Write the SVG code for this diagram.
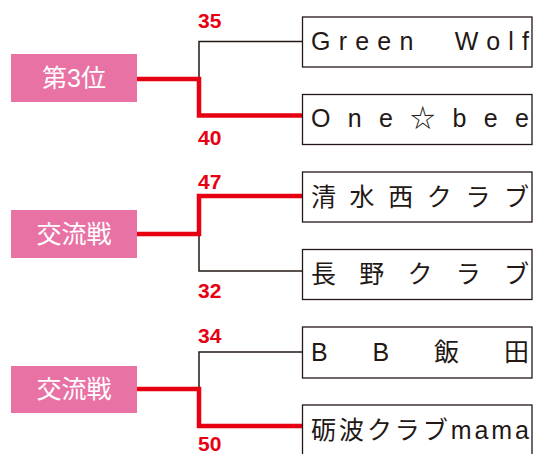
<svg xmlns="http://www.w3.org/2000/svg" width="539" height="454" viewBox="0 0 539 454">
<style>
.bg{fill:#ffffff}
.lbl{fill:#e972a5}
.lt{fill:#ffffff;font-family:"Liberation Sans","Noto Sans CJK JP",sans-serif;font-size:25px;text-anchor:middle}
.team{fill:#ffffff;stroke:#231815;stroke-width:1.3}
.tt{fill:#231815;font-family:"Liberation Sans","Noto Sans CJK JP",sans-serif;font-size:25px}
.sc{fill:#e60012;font-family:"Liberation Sans","DejaVu Sans",sans-serif;font-size:21px;font-weight:bold}
.win{fill:none;stroke:#e60012;stroke-width:4.5}
.lose{fill:none;stroke:#231815;stroke-width:1.5}
</style>
<rect class="bg" x="0" y="0" width="539" height="454"/>
<g id="connectors">
<path class="lose" d="M199,79 V41.5 H302"/>
<path class="win" d="M137,79 H199 V115.5 H302"/>
<path class="lose" d="M199,234 V271 H302"/>
<path class="win" d="M137,234 H199 V196 H302"/>
<path class="lose" d="M199,389 V352 H302"/>
<path class="win" d="M137,389 H199 V426 H302"/>
</g>
<g id="match1">
<rect class="lbl" x="11" y="54" width="126" height="48"/>
<text class="lt" x="74" y="87">第3位</text>
</g>
<g id="match2">
<rect class="lbl" x="11" y="210" width="126" height="48"/>
<text class="lt" x="74" y="243">交流戦</text>
</g>
<g id="match3">
<rect class="lbl" x="11" y="366" width="126" height="47"/>
<text class="lt" x="74" y="398">交流戦</text>
</g>
<g id="scores">
<text class="sc" x="198" y="28">35</text>
<text class="sc" x="198" y="145">40</text>
<text class="sc" x="198" y="189">47</text>
<text class="sc" x="198" y="298">32</text>
<text class="sc" x="198" y="343">34</text>
<text class="sc" x="198" y="451">50</text>
</g>
<g id="team-green-wolf">
<rect class="team" x="302.5" y="17" width="229.5" height="50"/>
<text class="tt" x="311" y="50" textLength="218" lengthAdjust="spacing">Green　Wolf</text>
</g>
<g id="team-one-bee">
<rect class="team" x="302.5" y="94.5" width="229.5" height="50"/>
<text class="tt" x="311" y="127" textLength="218" lengthAdjust="spacing">One☆bee</text>
</g>
<g id="team-shimizu-nishi">
<rect class="team" x="302.5" y="172" width="229.5" height="50"/>
<text class="tt" x="311" y="206" textLength="218" lengthAdjust="spacing">清水西クラブ</text>
</g>
<g id="team-nagano">
<rect class="team" x="302.5" y="249.5" width="229.5" height="50"/>
<text class="tt" x="311" y="283" textLength="218" lengthAdjust="spacing">長野クラブ</text>
</g>
<g id="team-bb-iida">
<rect class="team" x="302.5" y="327" width="229.5" height="51"/>
<text class="tt" x="311" y="361" textLength="218" lengthAdjust="spacing">B B 飯 田</text>
</g>
<g id="team-tonami">
<rect class="team" x="302.5" y="405" width="229.5" height="50.5"/>
<text class="tt" x="311" y="439" textLength="218" lengthAdjust="spacing">砺波クラブmama</text>
</g>
</svg>
